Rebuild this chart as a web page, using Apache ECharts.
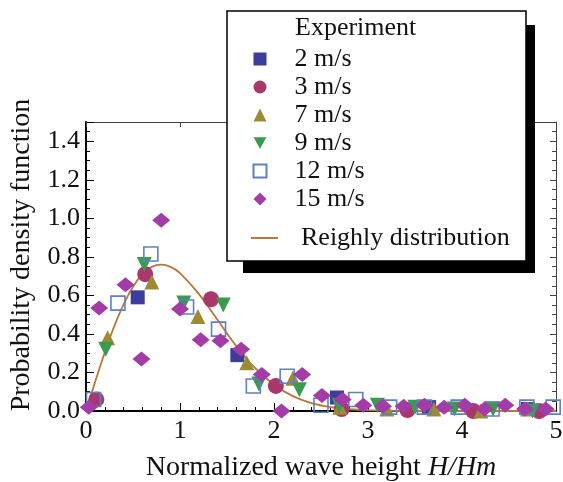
<!DOCTYPE html>
<html>
<head>
<meta charset="utf-8">
<script src="https://cdn.jsdelivr.net/npm/echarts@6/dist/echarts.min.js"></script>
<style>
  html, body { margin: 0; padding: 0; background: #fff; }
  #chart { width: 563px; height: 482px; }
</style>
</head>
<body>
<div id="chart"></div>
<script>
  // values: [H/Hm, pdf]
  const speed2 = [[0.55, 0.59], [1.61, 0.29], [2.67, 0.07], [3.65, 0.02], [4.70, 0.01]];
  const speed3 = [[0.11, 0.06], [0.63, 0.71], [1.33, 0.58], [2.02, 0.13], [2.72, 0.01], [3.42, 0.005], [4.12, 0.0], [4.82, 0.0]];
  const speed7 = [[0.23, 0.38], [0.70, 0.67], [1.19, 0.49], [1.71, 0.25], [2.20, 0.17], [2.70, 0.02], [3.20, 0.01], [3.70, 0.01], [4.20, 0.0], [4.70, 0.01]];
  const speed9 = [[0.21, 0.32], [0.62, 0.76], [1.04, 0.56], [1.46, 0.55], [1.84, 0.14], [2.27, 0.11], [2.69, 0.03], [3.10, 0.03], [3.50, 0.02], [3.92, 0.01], [4.33, 0.01], [4.75, 0.0]];
  const speed12 = [[0.08, 0.06], [0.34, 0.56], [0.69, 0.815], [1.07, 0.54], [1.41, 0.425], [1.78, 0.13], [2.14, 0.18], [2.50, 0.03], [2.87, 0.06], [3.23, 0.02], [3.60, 0.02], [3.96, 0.02], [4.32, 0.01], [4.69, 0.02], [4.97, 0.02]];
  const speed15 = [[0.03, 0.02], [0.14, 0.535], [0.42, 0.655], [0.59, 0.27], [0.80, 0.99], [1.00, 0.53], [1.22, 0.37], [1.43, 0.365], [1.65, 0.32], [1.87, 0.19], [2.08, 0.0], [2.30, 0.19], [2.51, 0.08], [2.73, 0.06], [2.95, 0.03], [3.16, 0.025], [3.38, 0.025], [3.60, 0.03], [3.81, 0.02], [4.03, 0.03], [4.24, 0.01], [4.46, 0.03], [4.67, 0.01], [4.89, 0.01]];
  const curve = [[0, 0], [0.1, 0.156], [0.2, 0.304], [0.3, 0.439], [0.4, 0.554], [0.5, 0.645], [0.6, 0.71], [0.7, 0.748], [0.8, 0.76], [0.9, 0.748], [1.0, 0.716], [1.2, 0.608], [1.4, 0.472], [1.6, 0.336], [1.8, 0.222], [2.0, 0.136], [2.2, 0.077], [2.4, 0.041], [2.6, 0.02], [2.8, 0.009], [3.0, 0.004], [3.5, 0.0], [5.0, 0.0]];

  const names = ['2 m/s', '3 m/s', '7 m/s', '9 m/s', '12 m/s', '15 m/s'];
  const lineName = 'Reighly distribution';

  const serif = '"Liberation Serif", "DejaVu Serif", serif';
  const chart = echarts.init(document.getElementById('chart'));

  const tickStyle = { show: true, inside: true, length: 8, lineStyle: { color: '#000', width: 1 } };
  const minorStyle = { show: true, length: 4, lineStyle: { color: '#000', width: 1 } };

  const option = {
    animation: false,
    backgroundColor: '#fff',
    grid: { left: 86, right: 7, top: 122, bottom: 71, outerBoundsMode: 'none', containLabel: false },
    xAxis: [
      {
        type: 'value', min: 0, max: 5, interval: 1,
        axisLine: { lineStyle: { color: '#000', width: 2 } },
        axisTick: tickStyle,
        minorTick: Object.assign({ splitNumber: 5 }, minorStyle),
        splitLine: { show: false },
        axisLabel: { color: '#111', fontFamily: serif, fontSize: 26, margin: 7 },
        name: 'Normalized wave height {i|H/Hm}',
        nameLocation: 'middle',
        nameGap: 43,
        nameTextStyle: {
          color: '#111', fontFamily: serif, fontSize: 28,
          rich: { i: { fontStyle: 'italic', fontFamily: serif, fontSize: 28, color: '#111' } }
        }
      },
      {
        type: 'value', position: 'top', min: 0, max: 5, interval: 1,
        axisLine: { onZero: false, lineStyle: { color: '#444', width: 1 } },
        axisTick: { show: true, inside: true, length: 5, lineStyle: { color: '#444' } },
        axisLabel: { show: false },
        splitLine: { show: false }
      }
    ],
    yAxis: [
      {
        type: 'value', min: 0, max: 1.5, interval: 0.2,
        axisLine: { show: true, lineStyle: { color: '#000', width: 2 } },
        axisTick: tickStyle,
        minorTick: Object.assign({ splitNumber: 4 }, minorStyle),
        splitLine: { show: false },
        axisLabel: {
          color: '#111', fontFamily: serif, fontSize: 26, margin: 6, showMaxLabel: false,
          formatter: v => v.toFixed(1)
        }
      },
      {
        type: 'value', position: 'right', min: 0, max: 1.5, interval: 0.2,
        axisLine: { show: true, onZero: false, lineStyle: { color: '#444', width: 1 } },
        axisTick: { show: true, inside: true, length: 6, lineStyle: { color: '#444' } },
        minorTick: { show: true, splitNumber: 4, length: 4, lineStyle: { color: '#444' } },
        axisLabel: { show: false },
        splitLine: { show: false }
      }
    ],
    graphic: [
      { type: 'rect', z: 10, shape: { x: 243, y: 25, width: 292, height: 248 }, style: { fill: '#000' } },
      { type: 'rect', z: 11, shape: { x: 227, y: 11, width: 299, height: 250 }, style: { fill: '#fff', stroke: '#000', lineWidth: 1.5 } },
      {
        type: 'text', z: 12, x: 295, y: 28,
        style: { text: 'Experiment', font: '26px ' + serif, fill: '#111', textVerticalAlign: 'middle' }
      },
      {
        type: 'text', z: 12, x: 22, y: 255, rotation: Math.PI / 2,
        style: { text: 'Probability density function', font: '28px ' + serif, fill: '#111', textAlign: 'center', textVerticalAlign: 'middle' }
      }
    ],
    legend: [
      {
        z: 20, data: names, orient: 'vertical', left: 252.5, top: 45,
        itemWidth: 13, itemHeight: 13, itemGap: 0, padding: 0,
        textStyle: { fontFamily: serif, fontSize: 26, color: '#111', lineHeight: 28, padding: [0, 0, 0, 23] }
      },
      {
        z: 20, data: [lineName], orient: 'vertical', left: 250, top: 224,
        itemWidth: 27, itemHeight: 13, padding: 0,
        itemStyle: { opacity: 0, borderWidth: 0 },
        lineStyle: { color: '#b8783a', width: 2 },
        textStyle: { fontFamily: serif, fontSize: 26, color: '#111', lineHeight: 28, padding: [0, 0, 0, 18] }
      }
    ],
    series: [
      {
        name: lineName, type: 'line', data: curve, smooth: 0.4, symbol: 'none',
        lineStyle: { color: '#b8783a', width: 1.8 }, itemStyle: { color: '#b8783a' }, z: 2
      },
      { name: names[0], type: 'scatter', data: speed2, symbol: 'rect', symbolSize: 14, itemStyle: { color: '#3c3c9a', opacity: 1 }, z: 3 },
      { name: names[1], type: 'scatter', data: speed3, symbol: 'circle', symbolSize: 16, itemStyle: { color: '#a8376c', opacity: 1 }, z: 3 },
      { name: names[2], type: 'scatter', data: speed7, symbol: 'triangle', symbolSize: 15, itemStyle: { color: '#9d8b33', opacity: 1 }, z: 3 },
      { name: names[3], type: 'scatter', data: speed9, symbol: 'path://M0,0 L10,0 L5,9 Z', symbolSize: 15, itemStyle: { color: '#3a9a50', opacity: 1 }, z: 3 },
      {
        name: names[4], type: 'scatter', data: speed12, symbol: 'rect', symbolSize: 14,
        itemStyle: { color: 'rgba(255,255,255,0)', borderColor: '#5f80c4', borderWidth: 1.6, opacity: 1 }, z: 3
      },
      { name: names[5], type: 'scatter', data: speed15, symbol: 'diamond', symbolSize: [18, 15], itemStyle: { color: '#a33ca6', opacity: 1 }, z: 3 }
    ]
  };

  chart.setOption(option);
</script>
</body>
</html>
